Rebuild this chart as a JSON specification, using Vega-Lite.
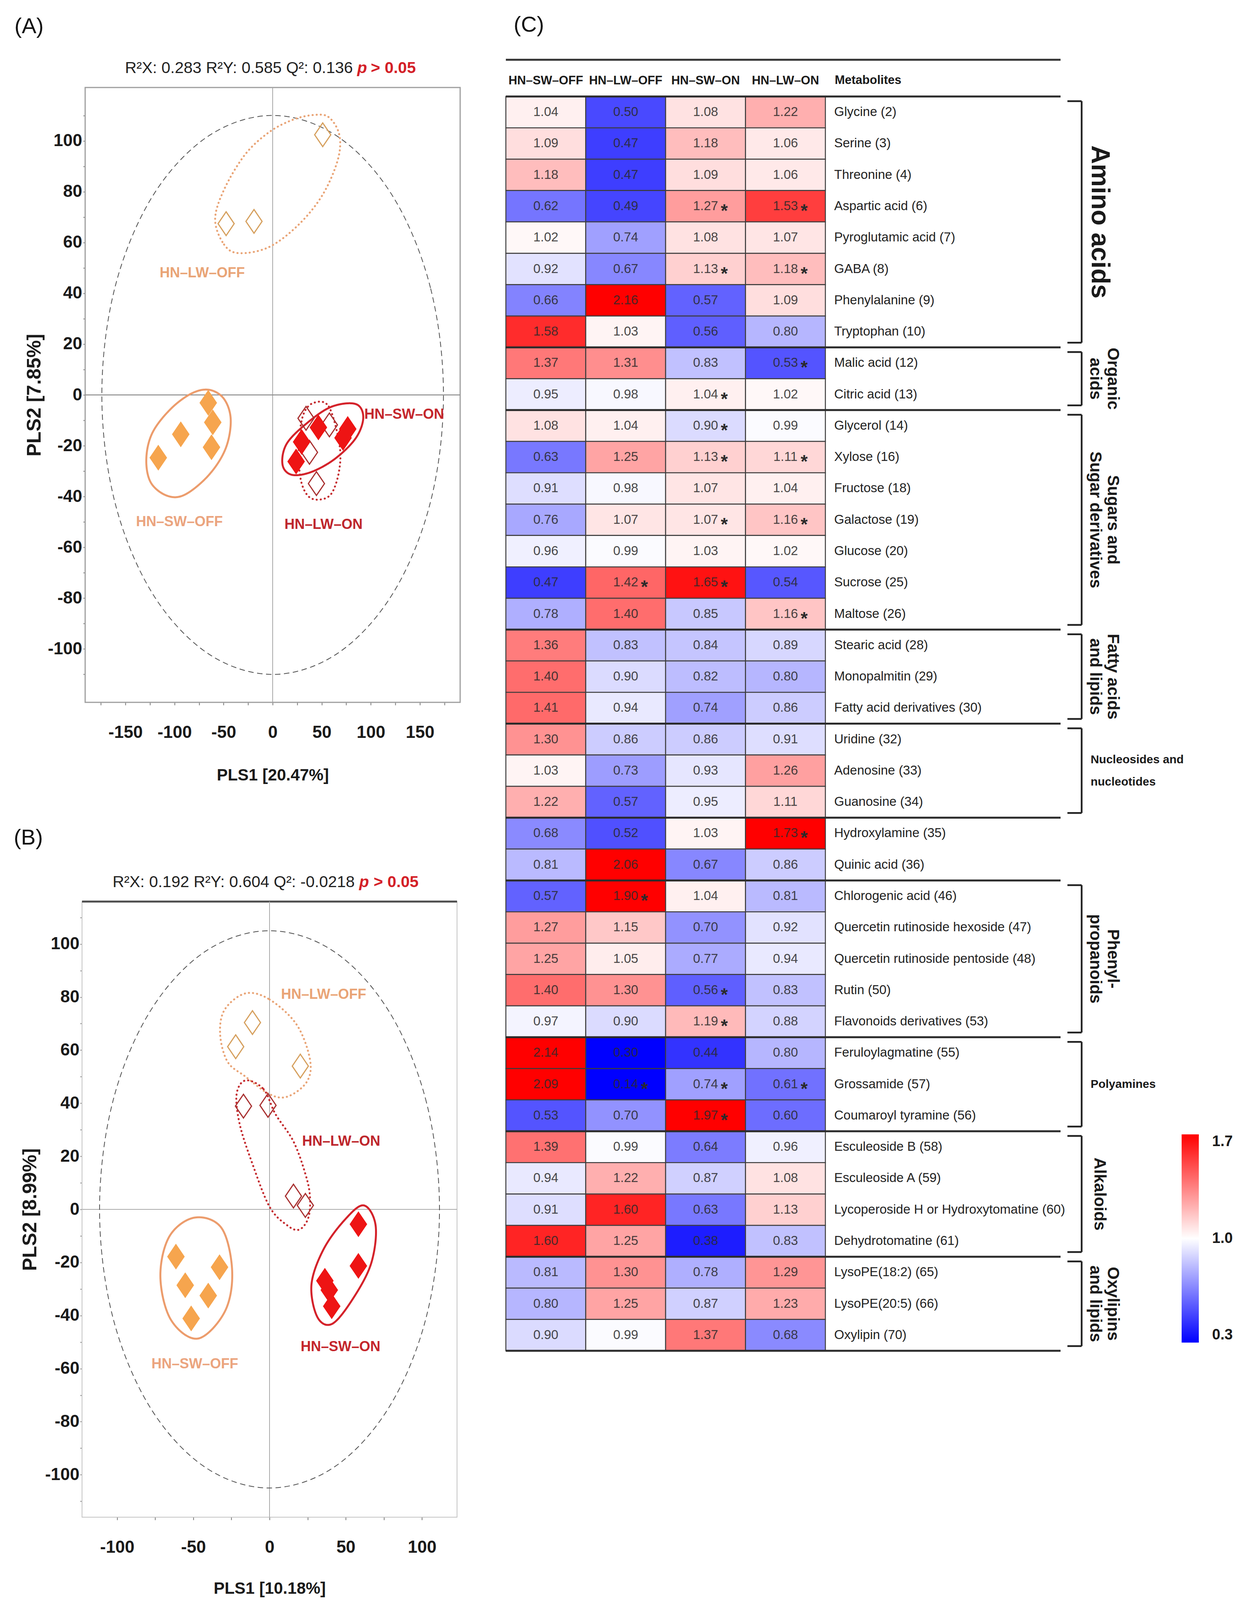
{
"$schema": "https://vega.github.io/schema/vega-lite/v6.json",
"width": 3177, "height": 4131,
"autosize": {"type": "none"},
"padding": 0,
"background": "white",
"config": {"view": {"stroke": null}, "axis": {"grid": false}},
"data": {"values": [{}]},
"datasets": {
"hotA": [{"x":174,"y":0},{"x":160.8,"y":42.1},{"x":123,"y":77.8},{"x":66.6,"y":101.6},{"x":0,"y":110},{"x":-66.6,"y":101.6},{"x":-123,"y":77.8},{"x":-160.8,"y":42.1},{"x":-174,"y":0},{"x":-160.8,"y":-42.1},{"x":-123,"y":-77.8},{"x":-66.6,"y":-101.6},{"x":0,"y":-110},{"x":66.6,"y":-101.6},{"x":123,"y":-77.8},{"x":160.8,"y":-42.1}],
"hotB": [{"x":111.5,"y":0},{"x":103,"y":40.2},{"x":78.8,"y":74.2},{"x":42.7,"y":97},{"x":0,"y":105},{"x":-42.7,"y":97},{"x":-78.8,"y":74.2},{"x":-103,"y":40.2},{"x":-111.5,"y":0},{"x":-103,"y":-40.2},{"x":-78.8,"y":-74.2},{"x":-42.7,"y":-97},{"x":0,"y":-105},{"x":42.7,"y":-97},{"x":78.8,"y":-74.2},{"x":103,"y":-40.2}],
"ellA": [
{"g":"HN–LW–OFF","x":-58.6,"y":69.0},{"g":"HN–LW–OFF","x":-49.5,"y":59.2},{"g":"HN–LW–OFF","x":-34.2,"y":55.8},{"g":"HN–LW–OFF","x":-3.7,"y":58.2},{"g":"HN–LW–OFF","x":26.7,"y":67.1},{"g":"HN–LW–OFF","x":51.1,"y":78.9},{"g":"HN–LW–OFF","x":66.4,"y":92.6},{"g":"HN–LW–OFF","x":67.9,"y":102.4},{"g":"HN–LW–OFF","x":57.2,"y":109.3},{"g":"HN–LW–OFF","x":42,"y":110.2},{"g":"HN–LW–OFF","x":20.6,"y":108.3},{"g":"HN–LW–OFF","x":-3.7,"y":103.4},{"g":"HN–LW–OFF","x":-28.1,"y":94.6},{"g":"HN–LW–OFF","x":-49.5,"y":80.8},
{"g":"HN–SW–OFF","x":-64.7,"y":2.0},{"g":"HN–SW–OFF","x":-49.5,"y":-1.6},{"g":"HN–SW–OFF","x":-42.7,"y":-9.8},{"g":"HN–SW–OFF","x":-47.9,"y":-21.1},{"g":"HN–SW–OFF","x":-64.7,"y":-31.4},{"g":"HN–SW–OFF","x":-89.1,"y":-39.2},{"g":"HN–SW–OFF","x":-107.4,"y":-39.7},{"g":"HN–SW–OFF","x":-124.1,"y":-34.5},{"g":"HN–SW–OFF","x":-128.7,"y":-25.2},{"g":"HN–SW–OFF","x":-122.6,"y":-15.0},{"g":"HN–SW–OFF","x":-104.3,"y":-5.7},{"g":"HN–SW–OFF","x":-83,"y":0.5},
{"g":"HN–SW–ON","x":84.7,"y":-3.6},{"g":"HN–SW–ON","x":92.3,"y":-8.8},{"g":"HN–SW–ON","x":84.7,"y":-17.0},{"g":"HN–SW–ON","x":63.3,"y":-25.2},{"g":"HN–SW–ON","x":38.9,"y":-30.4},{"g":"HN–SW–ON","x":19.1,"y":-31.4},{"g":"HN–SW–ON","x":10,"y":-27.3},{"g":"HN–SW–ON","x":14.5,"y":-19.1},{"g":"HN–SW–ON","x":35.9,"y":-10.8},{"g":"HN–SW–ON","x":60.3,"y":-4.6},
{"g":"HN–LW–ON","x":42,"y":-3.1},{"g":"HN–LW–ON","x":57.2,"y":-4.6},{"g":"HN–LW–ON","x":67.9,"y":-19.1},{"g":"HN–LW–ON","x":67.9,"y":-29.4},{"g":"HN–LW–ON","x":60.3,"y":-38.6},{"g":"HN–LW–ON","x":48.1,"y":-41.2},{"g":"HN–LW–ON","x":35.9,"y":-39.7},{"g":"HN–LW–ON","x":28.2,"y":-32.5},{"g":"HN–LW–ON","x":26.7,"y":-19.1},{"g":"HN–LW–ON","x":31.3,"y":-7.7}],
"ellB": [
{"g":"HN–LW–OFF","x":-15.7,"y":81.4},{"g":"HN–LW–OFF","x":0,"y":79.1},{"g":"HN–LW–OFF","x":17.7,"y":69.7},{"g":"HN–LW–OFF","x":26.5,"y":56.6},{"g":"HN–LW–OFF","x":24.5,"y":48.1},{"g":"HN–LW–OFF","x":11.8,"y":42.5},{"g":"HN–LW–OFF","x":0,"y":43.4},{"g":"HN–LW–OFF","x":-15.7,"y":50.0},{"g":"HN–LW–OFF","x":-27.5,"y":55.6},{"g":"HN–LW–OFF","x":-32.4,"y":66.0},{"g":"HN–LW–OFF","x":-29.4,"y":75.3},
{"g":"HN–LW–ON","x":-15.7,"y":48.6},{"g":"HN–LW–ON","x":-3.9,"y":45.3},{"g":"HN–LW–ON","x":3.9,"y":35.9},{"g":"HN–LW–ON","x":15.7,"y":25.6},{"g":"HN–LW–ON","x":23.5,"y":13.4},{"g":"HN–LW–ON","x":26.5,"y":5.0},{"g":"HN–LW–ON","x":25.5,"y":-3.1},{"g":"HN–LW–ON","x":19.6,"y":-7.6},{"g":"HN–LW–ON","x":11.8,"y":-6.1},{"g":"HN–LW–ON","x":0,"y":1.0},{"g":"HN–LW–ON","x":-11.8,"y":18.1},{"g":"HN–LW–ON","x":-19.6,"y":32.2},{"g":"HN–LW–ON","x":-21.6,"y":43.4},
{"g":"HN–SW–OFF","x":-49.1,"y":-3.1},{"g":"HN–SW–OFF","x":-31.4,"y":-7.1},{"g":"HN–SW–OFF","x":-24.5,"y":-23.4},{"g":"HN–SW–OFF","x":-29.4,"y":-38.6},{"g":"HN–SW–OFF","x":-47.1,"y":-48.7},{"g":"HN–SW–OFF","x":-64.7,"y":-41.6},{"g":"HN–SW–OFF","x":-71.6,"y":-25.4},{"g":"HN–SW–OFF","x":-65.7,"y":-10.2},
{"g":"HN–SW–ON","x":61.8,"y":1.5},{"g":"HN–SW–ON","x":69.6,"y":-6.1},{"g":"HN–SW–ON","x":66.7,"y":-20.3},{"g":"HN–SW–ON","x":54.9,"y":-33.5},{"g":"HN–SW–ON","x":41.2,"y":-43.1},{"g":"HN–SW–ON","x":31.4,"y":-40.6},{"g":"HN–SW–ON","x":27.5,"y":-28.4},{"g":"HN–SW–ON","x":35.3,"y":-15.2},{"g":"HN–SW–ON","x":49.1,"y":-4.1}],
"ptA": [
{"g":"HN–LW–OFF","x":-47.4,"y":67.4},{"g":"HN–LW–OFF","x":-19,"y":68.3},{"g":"HN–LW–OFF","x":51,"y":102.4},
{"g":"HN–LW–ON","x":34,"y":-9.2},{"g":"HN–LW–ON","x":57.8,"y":-11.8},{"g":"HN–LW–ON","x":37.5,"y":-22.6},{"g":"HN–LW–ON","x":44.6,"y":-34.9},
{"g":"HN–SW–OFF","x":-116.5,"y":-24.7},{"g":"HN–SW–OFF","x":-93.6,"y":-15.5},{"g":"HN–SW–OFF","x":-65.6,"y":-3.1},{"g":"HN–SW–OFF","x":-61,"y":-10.8},{"g":"HN–SW–OFF","x":-62.3,"y":-20.6},
{"g":"HN–SW–ON","x":46.6,"y":-12.8},{"g":"HN–SW–ON","x":71.7,"y":-16.9},{"g":"HN–SW–ON","x":76.5,"y":-13.4},{"g":"HN–SW–ON","x":29.5,"y":-18.5},{"g":"HN–SW–ON","x":23.9,"y":-26.2}],
"ptB": [
{"g":"HN–LW–OFF","x":-11.2,"y":70.4},{"g":"HN–LW–OFF","x":-22.2,"y":61.3},{"g":"HN–LW–OFF","x":20.2,"y":54.0},
{"g":"HN–LW–ON","x":-17.1,"y":38.9},{"g":"HN–LW–ON","x":-1.0,"y":39.2},{"g":"HN–LW–ON","x":15.7,"y":5.0},{"g":"HN–LW–ON","x":23.5,"y":1.5},
{"g":"HN–SW–OFF","x":-61.4,"y":-17.8},{"g":"HN–SW–OFF","x":-32.8,"y":-21.8},{"g":"HN–SW–OFF","x":-55.3,"y":-28.6},{"g":"HN–SW–OFF","x":-40.2,"y":-32.5},{"g":"HN–SW–OFF","x":-51.4,"y":-41.1},
{"g":"HN–SW–ON","x":58.3,"y":-5.6},{"g":"HN–SW–ON","x":58.3,"y":-21.3},{"g":"HN–SW–ON","x":36.3,"y":-26.9},{"g":"HN–SW–ON","x":39.2,"y":-30.4},{"g":"HN–SW–ON","x":40.8,"y":-36.5}],
"hm": [
{"m":"Glycine (2)","HN–SW–OFF":1.04,"HN–LW–OFF":0.50,"HN–SW–ON":1.08,"HN–LW–ON":1.22},
{"m":"Serine (3)","HN–SW–OFF":1.09,"HN–LW–OFF":0.47,"HN–SW–ON":1.18,"HN–LW–ON":1.06},
{"m":"Threonine (4)","HN–SW–OFF":1.18,"HN–LW–OFF":0.47,"HN–SW–ON":1.09,"HN–LW–ON":1.06},
{"m":"Aspartic acid (6)","HN–SW–OFF":0.62,"HN–LW–OFF":0.49,"HN–SW–ON":1.27,"HN–LW–ON":1.53},
{"m":"Pyroglutamic acid (7)","HN–SW–OFF":1.02,"HN–LW–OFF":0.74,"HN–SW–ON":1.08,"HN–LW–ON":1.07},
{"m":"GABA (8)","HN–SW–OFF":0.92,"HN–LW–OFF":0.67,"HN–SW–ON":1.13,"HN–LW–ON":1.18},
{"m":"Phenylalanine (9)","HN–SW–OFF":0.66,"HN–LW–OFF":2.16,"HN–SW–ON":0.57,"HN–LW–ON":1.09},
{"m":"Tryptophan (10)","HN–SW–OFF":1.58,"HN–LW–OFF":1.03,"HN–SW–ON":0.56,"HN–LW–ON":0.80},
{"m":"Malic acid (12)","HN–SW–OFF":1.37,"HN–LW–OFF":1.31,"HN–SW–ON":0.83,"HN–LW–ON":0.53},
{"m":"Citric acid (13)","HN–SW–OFF":0.95,"HN–LW–OFF":0.98,"HN–SW–ON":1.04,"HN–LW–ON":1.02},
{"m":"Glycerol (14)","HN–SW–OFF":1.08,"HN–LW–OFF":1.04,"HN–SW–ON":0.90,"HN–LW–ON":0.99},
{"m":"Xylose (16)","HN–SW–OFF":0.63,"HN–LW–OFF":1.25,"HN–SW–ON":1.13,"HN–LW–ON":1.11},
{"m":"Fructose (18)","HN–SW–OFF":0.91,"HN–LW–OFF":0.98,"HN–SW–ON":1.07,"HN–LW–ON":1.04},
{"m":"Galactose (19)","HN–SW–OFF":0.76,"HN–LW–OFF":1.07,"HN–SW–ON":1.07,"HN–LW–ON":1.16},
{"m":"Glucose (20)","HN–SW–OFF":0.96,"HN–LW–OFF":0.99,"HN–SW–ON":1.03,"HN–LW–ON":1.02},
{"m":"Sucrose (25)","HN–SW–OFF":0.47,"HN–LW–OFF":1.42,"HN–SW–ON":1.65,"HN–LW–ON":0.54},
{"m":"Maltose (26)","HN–SW–OFF":0.78,"HN–LW–OFF":1.40,"HN–SW–ON":0.85,"HN–LW–ON":1.16},
{"m":"Stearic acid (28)","HN–SW–OFF":1.36,"HN–LW–OFF":0.83,"HN–SW–ON":0.84,"HN–LW–ON":0.89},
{"m":"Monopalmitin (29)","HN–SW–OFF":1.40,"HN–LW–OFF":0.90,"HN–SW–ON":0.82,"HN–LW–ON":0.80},
{"m":"Fatty acid derivatives (30)","HN–SW–OFF":1.41,"HN–LW–OFF":0.94,"HN–SW–ON":0.74,"HN–LW–ON":0.86},
{"m":"Uridine (32)","HN–SW–OFF":1.30,"HN–LW–OFF":0.86,"HN–SW–ON":0.86,"HN–LW–ON":0.91},
{"m":"Adenosine (33)","HN–SW–OFF":1.03,"HN–LW–OFF":0.73,"HN–SW–ON":0.93,"HN–LW–ON":1.26},
{"m":"Guanosine (34)","HN–SW–OFF":1.22,"HN–LW–OFF":0.57,"HN–SW–ON":0.95,"HN–LW–ON":1.11},
{"m":"Hydroxylamine (35)","HN–SW–OFF":0.68,"HN–LW–OFF":0.52,"HN–SW–ON":1.03,"HN–LW–ON":1.73},
{"m":"Quinic acid (36)","HN–SW–OFF":0.81,"HN–LW–OFF":2.06,"HN–SW–ON":0.67,"HN–LW–ON":0.86},
{"m":"Chlorogenic acid (46)","HN–SW–OFF":0.57,"HN–LW–OFF":1.90,"HN–SW–ON":1.04,"HN–LW–ON":0.81},
{"m":"Quercetin rutinoside hexoside (47)","HN–SW–OFF":1.27,"HN–LW–OFF":1.15,"HN–SW–ON":0.70,"HN–LW–ON":0.92},
{"m":"Quercetin rutinoside pentoside (48)","HN–SW–OFF":1.25,"HN–LW–OFF":1.05,"HN–SW–ON":0.77,"HN–LW–ON":0.94},
{"m":"Rutin (50)","HN–SW–OFF":1.40,"HN–LW–OFF":1.30,"HN–SW–ON":0.56,"HN–LW–ON":0.83},
{"m":"Flavonoids derivatives (53)","HN–SW–OFF":0.97,"HN–LW–OFF":0.90,"HN–SW–ON":1.19,"HN–LW–ON":0.88},
{"m":"Feruloylagmatine (55)","HN–SW–OFF":2.14,"HN–LW–OFF":0.30,"HN–SW–ON":0.44,"HN–LW–ON":0.80},
{"m":"Grossamide (57)","HN–SW–OFF":2.09,"HN–LW–OFF":0.14,"HN–SW–ON":0.74,"HN–LW–ON":0.61},
{"m":"Coumaroyl tyramine (56)","HN–SW–OFF":0.53,"HN–LW–OFF":0.70,"HN–SW–ON":1.97,"HN–LW–ON":0.60},
{"m":"Esculeoside B (58)","HN–SW–OFF":1.39,"HN–LW–OFF":0.99,"HN–SW–ON":0.64,"HN–LW–ON":0.96},
{"m":"Esculeoside A (59)","HN–SW–OFF":0.94,"HN–LW–OFF":1.22,"HN–SW–ON":0.87,"HN–LW–ON":1.08},
{"m":"Lycoperoside H or Hydroxytomatine (60)","HN–SW–OFF":0.91,"HN–LW–OFF":1.60,"HN–SW–ON":0.63,"HN–LW–ON":1.13},
{"m":"Dehydrotomatine (61)","HN–SW–OFF":1.60,"HN–LW–OFF":1.25,"HN–SW–ON":0.38,"HN–LW–ON":0.83},
{"m":"LysoPE(18:2) (65)","HN–SW–OFF":0.81,"HN–LW–OFF":1.30,"HN–SW–ON":0.78,"HN–LW–ON":1.29},
{"m":"LysoPE(20:5) (66)","HN–SW–OFF":0.80,"HN–LW–OFF":1.25,"HN–SW–ON":0.87,"HN–LW–ON":1.23},
{"m":"Oxylipin (70)","HN–SW–OFF":0.90,"HN–LW–OFF":0.99,"HN–SW–ON":1.37,"HN–LW–ON":0.68}],
"stars": [
{"m":"Aspartic acid (6)","c":"HN–SW–ON"},{"m":"Aspartic acid (6)","c":"HN–LW–ON"},
{"m":"GABA (8)","c":"HN–SW–ON"},{"m":"GABA (8)","c":"HN–LW–ON"},
{"m":"Malic acid (12)","c":"HN–LW–ON"},{"m":"Citric acid (13)","c":"HN–SW–ON"},
{"m":"Glycerol (14)","c":"HN–SW–ON"},{"m":"Xylose (16)","c":"HN–SW–ON"},{"m":"Xylose (16)","c":"HN–LW–ON"},
{"m":"Galactose (19)","c":"HN–SW–ON"},{"m":"Galactose (19)","c":"HN–LW–ON"},
{"m":"Sucrose (25)","c":"HN–LW–OFF"},{"m":"Sucrose (25)","c":"HN–SW–ON"},{"m":"Maltose (26)","c":"HN–LW–ON"},
{"m":"Hydroxylamine (35)","c":"HN–LW–ON"},{"m":"Chlorogenic acid (46)","c":"HN–LW–OFF"},
{"m":"Rutin (50)","c":"HN–SW–ON"},{"m":"Flavonoids derivatives (53)","c":"HN–SW–ON"},
{"m":"Grossamide (57)","c":"HN–LW–OFF"},{"m":"Grossamide (57)","c":"HN–SW–ON"},{"m":"Grossamide (57)","c":"HN–LW–ON"},
{"m":"Coumaroyl tyramine (56)","c":"HN–SW–ON"}],
"sep": [{"r":0},{"r":8},{"r":10},{"r":17},{"r":20},{"r":23},{"r":25},{"r":30},{"r":33},{"r":37},{"r":40}],
"grp": [
{"label":"Amino acids","from":0,"to":8},
{"label":"Organic\nacids","from":8,"to":10},
{"label":"Sugars and\nSugar derivatives","from":10,"to":17},
{"label":"Fatty acids\nand lipids","from":17,"to":20},
{"label":"Nucleosides and\nnucleotides","from":20,"to":23},
{"label":"Phenyl-\npropanoids","from":25,"to":30},
{"label":"Polyamines","from":30,"to":33},
{"label":"Alkaloids","from":33,"to":37},
{"label":"Oxylipins\nand lipids","from":37,"to":40}]
},
"layer": [
{
"layer": [
{"mark": {"type": "rect", "fill": "transparent", "stroke": "#9e9e9e", "strokeWidth": 3},
 "encoding": {
  "x": {"datum": -191, "type": "quantitative", "scale": {"domain": [-191, 191], "range": [218, 1178], "nice": false, "zero": false},
        "axis": {"orient": "bottom", "offset": -2333, "values": [-175,-150,-125,-100,-75,-50,-25,0,25,50,75,100,125,150,175], "labelExpr": "datum.value % 50 === 0 ? '' + datum.value : ''", "domain": false, "tickSize": 7, "tickWidth": 2, "tickColor": "#777777", "labelFont": "Liberation Sans, Arial, sans-serif", "labelFontWeight": "bold", "labelFontSize": 44, "labelColor": "#1a1a1a", "labelPadding": 48, "labelOverlap": false, "labelFlush": false, "title": "PLS1 [20.47%]", "titleFont": "Liberation Sans, Arial, sans-serif", "titleFontWeight": "bold", "titleFontSize": 42, "titleColor": "#1a1a1a", "titleY": 186, "titleBaseline": "middle"}},
  "x2": {"datum": 191},
  "y": {"datum": -121, "type": "quantitative", "scale": {"domain": [-121, 121], "range": [1798, 224], "nice": false, "zero": false},
        "axis": {"orient": "left", "offset": -218, "values": [-110,-100,-90,-80,-70,-60,-50,-40,-30,-20,-10,0,10,20,30,40,50,60,70,80,90,100,110], "labelExpr": "datum.value % 20 === 0 ? '' + datum.value : ''", "domain": false, "tickSize": 5, "tickWidth": 2, "tickColor": "#777777", "labelFont": "Liberation Sans, Arial, sans-serif", "labelFontWeight": "bold", "labelFontSize": 44, "labelColor": "#1a1a1a", "labelPadding": 3, "labelOverlap": false, "labelFlush": false, "title": "PLS2 [7.85%]", "titleFont": "Liberation Sans, Arial, sans-serif", "titleFontWeight": "bold", "titleFontSize": 50, "titleColor": "#1a1a1a", "titleAngle": -90, "titleX": -130, "titleY": 1011, "titleAlign": "center", "titleBaseline": "middle"}},
  "y2": {"datum": 121}}},
{"mark": {"type": "rule", "stroke": "#a8a8a8", "strokeWidth": 2}, "encoding": {"x": {"datum": 0}, "y": {"datum": -121}, "y2": {"datum": 121}}},
{"mark": {"type": "rule", "stroke": "#8c8c8c", "strokeWidth": 2.5}, "encoding": {"x": {"datum": -191}, "x2": {"datum": 191}, "y": {"datum": 0}}},
{"data": {"name": "hotA"}, "mark": {"type": "line", "interpolate": "cardinal-closed", "stroke": "#505050", "strokeWidth": 2, "strokeDash": [14, 9]},
 "encoding": {"x": {"field": "x", "type": "quantitative"}, "y": {"field": "y", "type": "quantitative"}, "order": {"value": null}}},
{"data": {"name": "ellA"}, "mark": {"type": "line", "interpolate": "cardinal-closed", "strokeWidth": 5, "strokeCap": "round"},
 "encoding": {"x": {"field": "x", "type": "quantitative"}, "y": {"field": "y", "type": "quantitative"},
  "color": {"field": "g", "type": "nominal", "scale": {"domain": ["HN–LW–OFF","HN–SW–OFF","HN–SW–ON","HN–LW–ON"], "range": ["#E9A476","#EC9C6C","#D4222A","#C42A2E"]}, "legend": null},
  "strokeDash": {"field": "g", "type": "nominal", "scale": {"domain": ["HN–LW–OFF","HN–SW–OFF","HN–SW–ON","HN–LW–ON"], "range": [[0.5, 10], [1, 0], [1, 0], [0.5, 10]]}, "legend": null},
  "order": {"value": null}}},
{"data": {"name": "ptA"}, "mark": {"type": "point", "shape": "M0,-1L0.68,0L0,1L-0.68,0Z", "size": 3700, "strokeWidth": 3, "filled": true, "opacity": 1},
 "encoding": {"x": {"field": "x", "type": "quantitative"}, "y": {"field": "y", "type": "quantitative"},
  "fill": {"field": "g", "type": "nominal", "scale": {"domain": ["HN–LW–OFF","HN–SW–OFF","HN–SW–ON","HN–LW–ON"], "range": ["transparent","#F6A54E","#EE1414","transparent"]}, "legend": null},
  "stroke": {"field": "g", "type": "nominal", "scale": {"domain": ["HN–LW–OFF","HN–SW–OFF","HN–SW–ON","HN–LW–ON"], "range": ["#D6A05E","#F6A54E","#EE1414","#A83030"]}, "legend": null}}},
{"mark": {"type": "text", "text": "HN–LW–OFF", "font": "Liberation Sans, Arial, sans-serif", "fontWeight": "bold", "fontSize": 36, "color": "#E9A476", "align": "center", "baseline": "middle"}, "encoding": {"x": {"datum": -71.7}, "y": {"datum": 48}}},
{"mark": {"type": "text", "text": "HN–SW–OFF", "font": "Liberation Sans, Arial, sans-serif", "fontWeight": "bold", "fontSize": 36, "color": "#EBA47E", "align": "center", "baseline": "middle"}, "encoding": {"x": {"datum": -95}, "y": {"datum": -50}}},
{"mark": {"type": "text", "text": "HN–LW–ON", "font": "Liberation Sans, Arial, sans-serif", "fontWeight": "bold", "fontSize": 36, "color": "#BE262C", "align": "center", "baseline": "middle"}, "encoding": {"x": {"datum": 51.8}, "y": {"datum": -51}}},
{"mark": {"type": "text", "text": "HN–SW–ON", "font": "Liberation Sans, Arial, sans-serif", "fontWeight": "bold", "fontSize": 36, "color": "#C4262C", "align": "center", "baseline": "middle"}, "encoding": {"x": {"datum": 134}, "y": {"datum": -7.7}}},
{"mark": {"type": "text", "text": "R²X: 0.283 R²Y: 0.585 Q²: 0.136", "font": "Liberation Sans, Arial, sans-serif", "fontSize": 41, "color": "#222222", "align": "right", "baseline": "middle"}, "encoding": {"x": {"datum": 81.7}, "y": {"datum": 128.5}}},
{"mark": {"type": "text", "text": "p", "font": "Liberation Sans, Arial, sans-serif", "fontSize": 41, "fontWeight": "bold", "fontStyle": "italic", "color": "#D42027", "align": "left", "baseline": "middle"}, "encoding": {"x": {"datum": 86.1}, "y": {"datum": 128.5}}},
{"mark": {"type": "text", "text": "> 0.05", "font": "Liberation Sans, Arial, sans-serif", "fontSize": 41, "fontWeight": "bold", "color": "#D42027", "align": "left", "baseline": "middle"}, "encoding": {"x": {"datum": 100}, "y": {"datum": 128.5}}},
{"mark": {"type": "text", "text": "(A)", "font": "Liberation Sans, Arial, sans-serif", "fontSize": 56, "color": "#111111", "align": "left", "baseline": "middle"}, "encoding": {"x": {"datum": -263}, "y": {"datum": 145}}}
]
},
{
"layer": [
{"mark": {"type": "rect", "fill": "transparent", "stroke": "#c4c4c4", "strokeWidth": 2},
 "encoding": {
  "x": {"datum": -123, "type": "quantitative", "scale": {"domain": [-123, 123], "range": [210, 1170], "nice": false, "zero": false},
        "axis": {"orient": "bottom", "offset": -247, "values": [-100,-75,-50,-25,0,25,50,75,100], "labelExpr": "datum.value % 50 === 0 ? '' + datum.value : ''", "domain": false, "tickSize": 7, "tickWidth": 2, "tickColor": "#777777", "labelFont": "Liberation Sans, Arial, sans-serif", "labelFontWeight": "bold", "labelFontSize": 44, "labelColor": "#1a1a1a", "labelPadding": 48, "labelOverlap": false, "labelFlush": false, "title": "PLS1 [10.18%]", "titleFont": "Liberation Sans, Arial, sans-serif", "titleFontWeight": "bold", "titleFontSize": 42, "titleColor": "#1a1a1a", "titleY": 182, "titleBaseline": "middle"}},
  "x2": {"datum": 123},
  "y": {"datum": -116, "type": "quantitative", "scale": {"domain": [-116, 116], "range": [3884, 2308], "nice": false, "zero": false},
        "axis": {"orient": "left", "offset": -210, "values": [-110,-100,-90,-80,-70,-60,-50,-40,-30,-20,-10,0,10,20,30,40,50,60,70,80,90,100,110], "labelExpr": "datum.value % 20 === 0 ? '' + datum.value : ''", "domain": false, "tickSize": 5, "tickWidth": 2, "tickColor": "#888888", "labelFont": "Liberation Sans, Arial, sans-serif", "labelFontWeight": "bold", "labelFontSize": 44, "labelColor": "#1a1a1a", "labelPadding": 2, "labelOverlap": false, "labelFlush": false, "title": "PLS2 [8.99%]", "titleFont": "Liberation Sans, Arial, sans-serif", "titleFontWeight": "bold", "titleFontSize": 50, "titleColor": "#1a1a1a", "titleAngle": -90, "titleX": -133, "titleY": 3096, "titleAlign": "center", "titleBaseline": "middle"}},
  "y2": {"datum": 116}}},
{"mark": {"type": "rule", "stroke": "#4d4d4d", "strokeWidth": 5}, "encoding": {"x": {"datum": -123}, "x2": {"datum": 123}, "y": {"datum": 116}}},
{"mark": {"type": "rule", "stroke": "#aaaaaa", "strokeWidth": 2}, "encoding": {"x": {"datum": 0}, "y": {"datum": -116}, "y2": {"datum": 116}}},
{"mark": {"type": "rule", "stroke": "#aaaaaa", "strokeWidth": 2}, "encoding": {"x": {"datum": -123}, "x2": {"datum": 123}, "y": {"datum": 0}}},
{"data": {"name": "hotB"}, "mark": {"type": "line", "interpolate": "cardinal-closed", "stroke": "#505050", "strokeWidth": 2, "strokeDash": [14, 9]},
 "encoding": {"x": {"field": "x", "type": "quantitative"}, "y": {"field": "y", "type": "quantitative"}, "order": {"value": null}}},
{"data": {"name": "ellB"}, "mark": {"type": "line", "interpolate": "cardinal-closed", "strokeWidth": 5, "strokeCap": "round"},
 "encoding": {"x": {"field": "x", "type": "quantitative"}, "y": {"field": "y", "type": "quantitative"},
  "color": {"field": "g", "type": "nominal", "scale": {"domain": ["HN–LW–OFF","HN–SW–OFF","HN–SW–ON","HN–LW–ON"], "range": ["#E9A476","#EC9C6C","#D4222A","#C42A2E"]}, "legend": null},
  "strokeDash": {"field": "g", "type": "nominal", "scale": {"domain": ["HN–LW–OFF","HN–SW–OFF","HN–SW–ON","HN–LW–ON"], "range": [[0.5, 10], [1, 0], [1, 0], [0.5, 10]]}, "legend": null},
  "order": {"value": null}}},
{"data": {"name": "ptB"}, "mark": {"type": "point", "shape": "M0,-1L0.68,0L0,1L-0.68,0Z", "size": 3700, "strokeWidth": 3, "filled": true, "opacity": 1},
 "encoding": {"x": {"field": "x", "type": "quantitative"}, "y": {"field": "y", "type": "quantitative"},
  "fill": {"field": "g", "type": "nominal", "scale": {"domain": ["HN–LW–OFF","HN–SW–OFF","HN–SW–ON","HN–LW–ON"], "range": ["transparent","#F6A54E","#EE1414","transparent"]}, "legend": null},
  "stroke": {"field": "g", "type": "nominal", "scale": {"domain": ["HN–LW–OFF","HN–SW–OFF","HN–SW–ON","HN–LW–ON"], "range": ["#D6A05E","#F6A54E","#EE1414","#A83030"]}, "legend": null}}},
{"mark": {"type": "text", "text": "HN–LW–OFF", "font": "Liberation Sans, Arial, sans-serif", "fontWeight": "bold", "fontSize": 36, "color": "#E9A476", "align": "center", "baseline": "middle"}, "encoding": {"x": {"datum": 35.5}, "y": {"datum": 81}}},
{"mark": {"type": "text", "text": "HN–LW–ON", "font": "Liberation Sans, Arial, sans-serif", "fontWeight": "bold", "fontSize": 36, "color": "#BE262C", "align": "center", "baseline": "middle"}, "encoding": {"x": {"datum": 47}, "y": {"datum": 25.6}}},
{"mark": {"type": "text", "text": "HN–SW–ON", "font": "Liberation Sans, Arial, sans-serif", "fontWeight": "bold", "fontSize": 36, "color": "#C4262C", "align": "center", "baseline": "middle"}, "encoding": {"x": {"datum": 46.6}, "y": {"datum": -51.8}}},
{"mark": {"type": "text", "text": "HN–SW–OFF", "font": "Liberation Sans, Arial, sans-serif", "fontWeight": "bold", "fontSize": 36, "color": "#EBA47E", "align": "center", "baseline": "middle"}, "encoding": {"x": {"datum": -49}, "y": {"datum": -58.3}}},
{"mark": {"type": "text", "text": "R²X: 0.192 R²Y: 0.604 Q²: -0.0218", "font": "Liberation Sans, Arial, sans-serif", "fontSize": 41, "color": "#222222", "align": "right", "baseline": "middle"}, "encoding": {"x": {"datum": 55.9}, "y": {"datum": 123.2}}},
{"mark": {"type": "text", "text": "p", "font": "Liberation Sans, Arial, sans-serif", "fontSize": 41, "fontWeight": "bold", "fontStyle": "italic", "color": "#D42027", "align": "left", "baseline": "middle"}, "encoding": {"x": {"datum": 58.8}, "y": {"datum": 123.2}}},
{"mark": {"type": "text", "text": "> 0.05", "font": "Liberation Sans, Arial, sans-serif", "fontSize": 41, "fontWeight": "bold", "color": "#D42027", "align": "left", "baseline": "middle"}, "encoding": {"x": {"datum": 68.3}, "y": {"datum": 123.2}}},
{"mark": {"type": "text", "text": "(B)", "font": "Liberation Sans, Arial, sans-serif", "fontSize": 56, "color": "#111111", "align": "left", "baseline": "middle"}, "encoding": {"x": {"datum": -167.8}, "y": {"datum": 140}}}
]
},
{
"data": {"name": "hm"},
"transform": [{"fold": ["HN–SW–OFF","HN–LW–OFF","HN–SW–ON","HN–LW–ON"], "as": ["c", "v"]}],
"layer": [
{"mark": {"type": "rect", "stroke": "#3c3c3c", "strokeWidth": 2.5},
 "encoding": {
  "x": {"field": "c", "type": "nominal", "scale": {"domain": ["HN–SW–OFF","HN–LW–OFF","HN–SW–ON","HN–LW–ON"], "range": [1295, 2113], "paddingInner": 0, "paddingOuter": 0},
        "axis": {"orient": "top", "offset": -247, "domain": false, "ticks": false, "labelAngle": 0, "labelPadding": 32, "labelBaseline": "alphabetic", "labelLimit": 0, "labelFont": "Liberation Sans, Arial, sans-serif", "labelFontWeight": "bold", "labelFontSize": 31, "labelColor": "#1a1a1a", "title": null}},
  "y": {"field": "m", "type": "nominal", "scale": {"domain": ["Glycine (2)","Serine (3)","Threonine (4)","Aspartic acid (6)","Pyroglutamic acid (7)","GABA (8)","Phenylalanine (9)","Tryptophan (10)","Malic acid (12)","Citric acid (13)","Glycerol (14)","Xylose (16)","Fructose (18)","Galactose (19)","Glucose (20)","Sucrose (25)","Maltose (26)","Stearic acid (28)","Monopalmitin (29)","Fatty acid derivatives (30)","Uridine (32)","Adenosine (33)","Guanosine (34)","Hydroxylamine (35)","Quinic acid (36)","Chlorogenic acid (46)","Quercetin rutinoside hexoside (47)","Quercetin rutinoside pentoside (48)","Rutin (50)","Flavonoids derivatives (53)","Feruloylagmatine (55)","Grossamide (57)","Coumaroyl tyramine (56)","Esculeoside B (58)","Esculeoside A (59)","Lycoperoside H or Hydroxytomatine (60)","Dehydrotomatine (61)","LysoPE(18:2) (65)","LysoPE(20:5) (66)","Oxylipin (70)"], "range": [247, 3458], "paddingInner": 0, "paddingOuter": 0},
        "axis": {"orient": "right", "offset": -1064, "domain": false, "ticks": false, "labelPadding": 22, "labelAlign": "left", "labelFont": "Liberation Sans, Arial, sans-serif", "labelFontSize": 33, "labelColor": "#222222", "labelLimit": 0, "title": null}},
  "color": {"field": "v", "type": "quantitative", "scale": {"domain": [0.3, 1, 1.7], "range": ["#0000ff", "#ffffff", "#ff0000"], "interpolate": "rgb", "clamp": true},
        "legend": {"orient": "none", "legendX": 3025, "legendY": 2904, "direction": "vertical", "gradientLength": 533, "gradientThickness": 44, "title": null, "values": [0.3, 1.0, 1.7], "format": ".1f", "labelFont": "Liberation Sans, Arial, sans-serif", "labelFontWeight": "bold", "labelFontSize": 38, "labelColor": "#1a1a1a", "labelOffset": 34, "gradientStrokeWidth": 0, "padding": 0}}}},
{"mark": {"type": "text", "font": "Liberation Sans, Arial, sans-serif", "fontSize": 33, "color": "#2a2a2a", "opacity": 0.85},
 "encoding": {"x": {"field": "c", "type": "nominal"}, "y": {"field": "m", "type": "nominal"}, "text": {"field": "v", "type": "quantitative", "format": ".2f"}}},
{"data": {"name": "stars"}, "mark": {"type": "text", "text": "*", "font": "Liberation Sans, Arial, sans-serif", "fontSize": 46, "fontWeight": "bold", "color": "#2a2a2a", "dx": 48, "dy": 13},
 "encoding": {"x": {"field": "c", "type": "nominal"}, "y": {"field": "m", "type": "nominal"}}}
]
},
{
"layer": [
{"mark": {"type": "rule", "stroke": "#333333", "strokeWidth": 5},
 "encoding": {"x": {"datum": 0, "type": "quantitative", "scale": {"domain": [0, 4], "range": [1295, 2113], "nice": false, "zero": false}, "axis": null},
  "x2": {"datum": 6.944},
  "y": {"datum": -1.171, "type": "quantitative", "scale": {"domain": [0, 40], "range": [247, 3458], "nice": false, "zero": false}, "axis": null}}},
{"data": {"name": "sep"}, "mark": {"type": "rule", "stroke": "#2b2b2b", "strokeWidth": 5},
 "encoding": {"x": {"datum": 0}, "x2": {"datum": 6.944}, "y": {"field": "r", "type": "quantitative"}}},
{"data": {"name": "grp"}, "mark": {"type": "rule", "stroke": "#222222", "strokeWidth": 4.5, "yOffset": 12, "y2Offset": -12},
 "encoding": {"x": {"datum": 7.208}, "y": {"field": "from", "type": "quantitative"}, "y2": {"field": "to"}}},
{"data": {"name": "grp"}, "mark": {"type": "rule", "stroke": "#222222", "strokeWidth": 4.5, "yOffset": 12},
 "encoding": {"x": {"datum": 7.03}, "x2": {"datum": 7.208}, "y": {"field": "from", "type": "quantitative"}}},
{"data": {"name": "grp"}, "mark": {"type": "rule", "stroke": "#222222", "strokeWidth": 4.5, "yOffset": -12},
 "encoding": {"x": {"datum": 7.03}, "x2": {"datum": 7.208}, "y": {"field": "to", "type": "quantitative"}}},
{"data": {"name": "grp"},
 "transform": [{"filter": "datum.label === 'Amino acids' || datum.label === 'Alkaloids'"}, {"fold": ["from", "to"], "as": ["k", "r"]}, {"aggregate": [{"op": "mean", "field": "r", "as": "mid"}], "groupby": ["label"]}],
 "mark": {"type": "text", "angle": 90, "font": "Liberation Sans, Arial, sans-serif", "fontWeight": "bold", "align": "center", "baseline": "middle", "color": "#1a1a1a"},
 "encoding": {"x": {"datum": 7.433}, "y": {"field": "mid", "type": "quantitative"}, "text": {"field": "label"}, "size": {"condition": {"test": "datum.label === 'Amino acids'", "value": 66}, "value": 42}}},
{"data": {"name": "grp"},
 "transform": [{"filter": "datum.label !== 'Amino acids' && datum.label !== 'Alkaloids' && datum.label !== 'Polyamines' && indexof(datum.label, 'Nucleosides') < 0"}, {"fold": ["from", "to"], "as": ["k", "r"]}, {"aggregate": [{"op": "mean", "field": "r", "as": "mid"}], "groupby": ["label"]}],
 "mark": {"type": "text", "angle": 90, "font": "Liberation Sans, Arial, sans-serif", "fontWeight": "bold", "fontSize": 42, "lineBreak": "\n", "lineHeight": 45, "align": "center", "baseline": "middle", "color": "#1a1a1a"},
 "encoding": {"x": {"datum": 7.6}, "y": {"field": "mid", "type": "quantitative"}, "text": {"field": "label"}}},
{"data": {"name": "grp"},
 "transform": [{"filter": "datum.label === 'Polyamines'"}, {"fold": ["from", "to"], "as": ["k", "r"]}, {"aggregate": [{"op": "mean", "field": "r", "as": "mid"}], "groupby": ["label"]}],
 "mark": {"type": "text", "font": "Liberation Sans, Arial, sans-serif", "fontWeight": "bold", "fontSize": 30, "align": "left", "baseline": "middle", "color": "#1a1a1a"},
 "encoding": {"x": {"datum": 7.32}, "y": {"field": "mid", "type": "quantitative"}, "text": {"field": "label"}}},
{"data": {"name": "grp"},
 "transform": [{"filter": "indexof(datum.label, 'Nucleosides') === 0"}, {"fold": ["from", "to"], "as": ["k", "r"]}, {"aggregate": [{"op": "mean", "field": "r", "as": "mid"}], "groupby": ["label"]}],
 "mark": {"type": "text", "font": "Liberation Sans, Arial, sans-serif", "fontWeight": "bold", "fontSize": 30, "lineBreak": "\n", "lineHeight": 57, "dy": -28, "align": "left", "baseline": "middle", "color": "#1a1a1a"},
 "encoding": {"x": {"datum": 7.32}, "y": {"field": "mid", "type": "quantitative"}, "text": {"field": "label"}}},
{"mark": {"type": "text", "text": "Metabolites", "font": "Liberation Sans, Arial, sans-serif", "fontWeight": "bold", "fontSize": 31, "align": "left", "baseline": "alphabetic", "color": "#1a1a1a"},
 "encoding": {"x": {"datum": 4.117}, "y": {"datum": -0.399}}},
{"mark": {"type": "text", "text": "(C)", "font": "Liberation Sans, Arial, sans-serif", "fontSize": 56, "align": "left", "baseline": "middle", "color": "#111111"},
 "encoding": {"x": {"datum": 0.098}, "y": {"datum": -2.28}}}
]
}
],
"resolve": {"scale": {"x": "independent", "y": "independent", "color": "independent", "fill": "independent", "stroke": "independent", "strokeDash": "independent"}, "axis": {"x": "independent", "y": "independent"}}
}
